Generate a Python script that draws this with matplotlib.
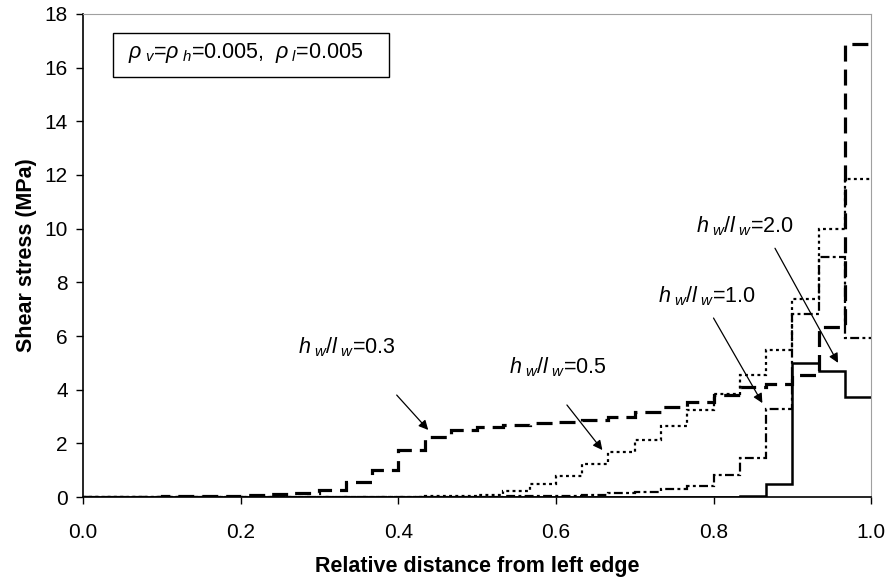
import numpy as np
import matplotlib.pyplot as plt
from matplotlib.patches import Rectangle

plt.rcParams['font.family'] = ['Liberation Sans', 'DejaVu Sans']
plt.rcParams['mathtext.fontset'] = 'custom'
plt.rcParams['mathtext.rm'] = 'Liberation Sans'
plt.rcParams['mathtext.it'] = 'Liberation Sans:italic'
plt.rcParams['mathtext.bf'] = 'Liberation Sans:bold'

# 30 elementos a lo largo del muro (distancia relativa)
n_elem = 30
bordes = np.linspace(0.0, 1.0, n_elem + 1)

# Esfuerzo cortante (MPa) por elemento, de izquierda a derecha
tau_03 = [0.0, 0.0, 0.01, 0.02, 0.03, 0.05, 0.07, 0.10, 0.15, 0.27,
          0.56, 1.00, 1.75, 2.22, 2.50, 2.60, 2.67, 2.74, 2.80, 2.87,
          3.00, 3.15, 3.35, 3.53, 3.80, 4.10, 4.22, 4.55, 6.32, 16.88]
tau_05 = [0.0, 0.0, 0.0, 0.0, 0.0, 0.0, 0.0, 0.0, 0.0, 0.0,
          0.0, 0.0, 0.01, 0.03, 0.05, 0.08, 0.22, 0.47, 0.77, 1.23,
          1.69, 2.12, 2.66, 3.26, 3.85, 4.53, 5.46, 7.38, 10.00, 11.84]
tau_10 = [0.0, 0.0, 0.0, 0.0, 0.0, 0.0, 0.0, 0.0, 0.0, 0.0,
          0.0, 0.0, 0.0, 0.0, 0.005, 0.01, 0.02, 0.03, 0.05, 0.08,
          0.14, 0.20, 0.30, 0.41, 0.82, 1.44, 3.27, 6.82, 8.96, 5.92]
tau_20 = [0.0, 0.0, 0.0, 0.0, 0.0, 0.0, 0.0, 0.0, 0.0, 0.0,
          0.0, 0.0, 0.0, 0.0, 0.0, 0.0, 0.0, 0.0, 0.0, 0.0,
          0.0, 0.0, 0.0, 0.0, 0.0, 0.04, 0.47, 4.98, 4.71, 3.74]

etiquetas = [r'$h_{\ w}/l_{\ w}$=0.3', r'$h_{\ w}/l_{\ w}$=0.5',
             r'$h_{\ w}/l_{\ w}$=1.0', r'$h_{\ w}/l_{\ w}$=2.0']
pos_texto = [(0.335, 5.6), (0.602, 4.85), (0.792, 7.5), (0.84, 10.1)]
flecha_ini = [(0.398, 3.8), (0.614, 3.43), (0.80, 6.67), (0.878, 9.27)]
flecha_fin = [(0.438, 2.5), (0.659, 1.75), (0.862, 3.5), (0.958, 5.0)]

fig = plt.figure(figsize=(8.88, 5.82), dpi=100)
ax = fig.add_axes([0.0935, 0.146, 0.8875, 0.83])

#Dibujamos cada serie como escalones
ax.stairs(tau_03, bordes, baseline=None, color='black', lw=2.3, linestyle=(0, (5, 2.5)))
ax.stairs(tau_05, bordes, baseline=None, color='black', lw=1.6, linestyle=(0, (1.3, 1.5)))
ax.stairs(tau_10, bordes, baseline=None, color='black', lw=1.6, linestyle=(0, (4, 1.5, 1.3, 1.5)))
ax.stairs(tau_20, bordes, baseline=None, color='black', lw=1.8)

for txt, p, a, b in zip(etiquetas, pos_texto, flecha_ini, flecha_fin):
    ax.text(p[0], p[1], txt, fontsize=15.5, ha='center', va='center')
    ax.annotate('', xy=b, xytext=a,
                arrowprops=dict(arrowstyle='-|>', color='black', lw=0.9,
                                mutation_scale=14, shrinkA=0, shrinkB=0))

ax.add_patch(Rectangle((0.038, 0.87), 0.35, 0.09, transform=ax.transAxes,
                       fill=False, edgecolor='black', lw=1))
ax.text(0.057, 16.55, r'$\rho_{\ v}$=$\rho_{\ h}$=0.005,  $\rho_{\ l}$=0.005',
        fontsize=15.5, va='center', ha='left')

ax.set_xlim(0, 1.0)
ax.set_ylim(0, 18)
ax.set_xticks(np.arange(0, 1.01, 0.2))
ax.set_xticklabels(['0.0', '0.2', '0.4', '0.6', '0.8', '1.0'])
ax.set_yticks(np.arange(0, 19, 2))
ax.tick_params(direction='out', length=5, width=1, labelsize=15)
ax.tick_params(axis='x', pad=14)
ax.tick_params(axis='y', pad=6)
ax.set_xlabel('Relative distance from left edge', fontsize=15.5, fontweight='bold', labelpad=10)
ax.set_ylabel('Shear stress (MPa)', fontsize=15.5, fontweight='bold', labelpad=5)

for s in ['top', 'right']:
    ax.spines[s].set_color('#a0a0a0')
for s in ['left', 'bottom']:
    ax.spines[s].set_color('black')
    ax.spines[s].set_linewidth(1.2)

fig.savefig('out.png', dpi=100)
